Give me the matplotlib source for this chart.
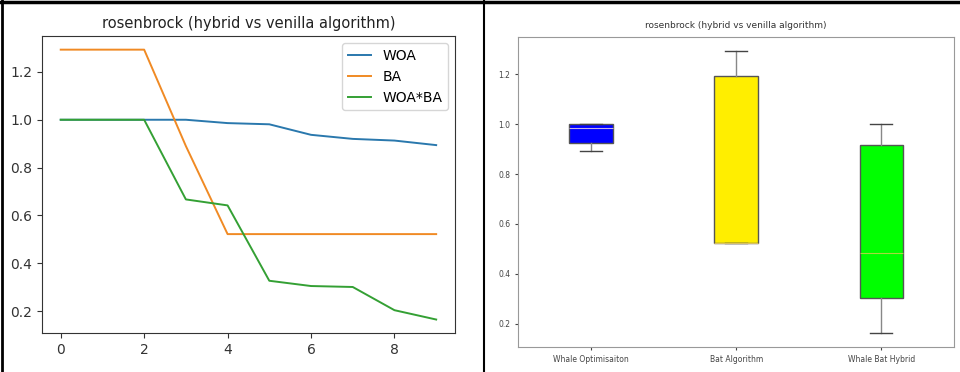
import numpy as np
import matplotlib
matplotlib.use('Agg')
import matplotlib.pyplot as plt
from matplotlib.lines import Line2D

# best fitness per iteration on rosenbrock
iters = list(range(10))
woa = [1.0, 1.0, 1.0, 1.0, 0.986, 0.981, 0.937, 0.920, 0.913, 0.894]
ba = [1.293, 1.293, 1.293, 0.89, 0.522, 0.522, 0.522, 0.522, 0.522, 0.522]
hybrid = [1.0, 1.0, 1.0, 0.667, 0.642, 0.327, 0.305, 0.301, 0.204, 0.165]

line_labels = ['WOA', 'BA', 'WOA*BA']
box_labels = ['Whale Optimisaiton', 'Bat Algorithm', 'Whale Bat Hybrid']
box_colors = ['#0000ff', '#ffee00', '#00ff00']
median_colors = ['#c4b0e8', '#d8c060', '#a8d840']
title = 'rosenbrock (hybrid vs venilla algorithm)'

fig = plt.figure(figsize=(9.6, 3.72), dpi=100)

# left: convergence curves
ax1 = fig.add_axes([0.0437, 0.1048, 0.4302, 0.798])
ax1.plot(iters, woa, color='#2a78ad', lw=1.4, label=line_labels[0])
ax1.plot(iters, ba, color='#f08a24', lw=1.4, label=line_labels[1])
ax1.plot(iters, hybrid, color='#34a034', lw=1.4, label=line_labels[2])
ax1.set_title(title, fontsize=10.5, color='#222222')
ax1.legend(loc='upper right', fontsize=10, handlelength=1.7)
ax1.tick_params(labelsize=10, colors='#333333')
for s in ax1.spines.values():
    s.set_color('#333333')

# right: distribution of the same runs
ax2 = fig.add_axes([0.5401, 0.068, 0.4536, 0.833])
bp = ax2.boxplot([woa, ba, hybrid], patch_artist=True,
                 boxprops=dict(edgecolor='#555555', linewidth=1),
                 whiskerprops=dict(color='#888888', linewidth=1),
                 capprops=dict(color='#444444', linewidth=1),
                 medianprops=dict(linewidth=0.8))
for patch, c in zip(bp['boxes'], box_colors):
    patch.set_facecolor(c)
for med, c in zip(bp['medians'], median_colors):
    med.set_color(c)
ax2.set_xticks([1, 2, 3])
ax2.set_xticklabels(box_labels)
ax2.set_title(title, fontsize=6.5, color='#333333')
ax2.tick_params(labelsize=5.5, colors='#444444', length=2.5)
for s in ax2.spines.values():
    s.set_color('#999999')

# page borders around the two panels
fig.add_artist(Line2D([0, 1], [0.995, 0.995], transform=fig.transFigure, color='black', lw=2.5))
fig.add_artist(Line2D([0.0026, 0.0026], [0, 1], transform=fig.transFigure, color='black', lw=2))
fig.add_artist(Line2D([0.5042, 0.5042], [0, 1], transform=fig.transFigure, color='black', lw=1.5))

fig.savefig('out.png', dpi=100)
